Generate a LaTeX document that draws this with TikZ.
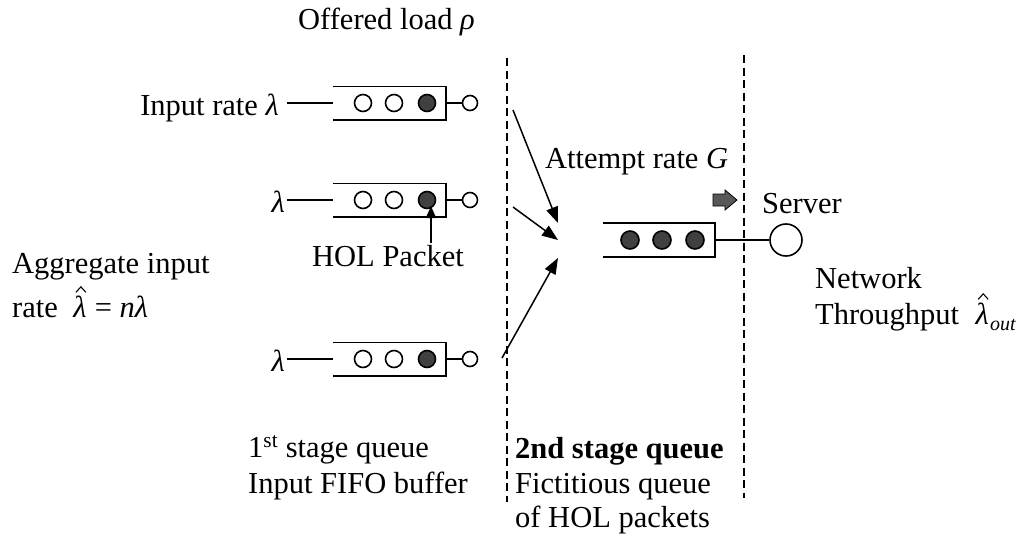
\documentclass[tikz,border=0pt]{standalone}
\usepackage{fontspec}
\setmainfont{Liberation Serif}
\usetikzlibrary{arrows.meta}
\tikzset{
  lbl/.style={inner sep=0pt, font=\fontsize{30.5}{36}\selectfont},
  sub/.style={inner sep=0pt, font=\fontsize{20}{24}\selectfont\itshape},
  hat/.style={line width=1.1pt, line join=miter},
  qline/.style={line width=1.6pt},
  qbox/.style={minimum width=113pt, minimum height=33pt, inner sep=0pt},
  pkt/.style={circle, draw, line width=1.6pt, minimum size=17pt, inner sep=0pt},
  hol/.style={pkt, fill=black!75},
  port/.style={circle, draw, line width=1.6pt, minimum size=15pt, inner sep=0pt},
  stage/.style={dashed, line width=1.5pt, dash pattern=on 8pt off 4.5pt},
  feed/.style={line width=1.5pt, -{Triangle[length=16pt,width=12pt]}},
}
\begin{document}
\begin{tikzpicture}[x=1pt,y=-1pt]
\useasboundingbox (0,0) rectangle (1021,538);

% ---- first stage: three input FIFO buffers ----
\foreach \i/\y in {1/103,2/200,3/359}{
  \node[qbox] (box\i) at (389.5,\y) {};
  \draw[qline] (box\i.north west) -- (box\i.north east) -- (box\i.south east) -- (box\i.south west);
  \node[pkt] (p\i a) at (363,\y) {};
  \node[pkt] (p\i b) at (394,\y) {};
  \node[hol] (p\i c) at (427,\y) {};
  \node[port] (out\i) at (470,\y) {};
  \draw[qline] (box\i.east) -- (out\i);
  \coordinate (in\i) at (287,\y);
  \draw[line width=1.3pt] (in\i) -- (box\i.west);
}

\node[lbl, anchor=base east] (lam1) at (279,115) {Input rate \textit{λ}};
\node[lbl, anchor=base east] (lam2) at (285,212) {\textit{λ}};
\node[lbl, anchor=base east] (lam3) at (285,371) {\textit{λ}};

% head-of-line marker
\node[lbl, anchor=base west] (holtxt) at (312,266) {HOL Packet};
\coordinate (holfoot) at (431,243);
\draw[line width=1.5pt, -{Triangle[length=12pt,width=10pt]}] (holfoot) -- (431,206);

% ---- stage boundaries ----
\coordinate (d1t) at (507,58);  \coordinate (d1b) at (507,502);
\coordinate (d2t) at (744,55);  \coordinate (d2b) at (744,498);
\draw[stage] (d1t) -- (d1b);
\draw[stage] (d2t) -- (d2b);

% ---- attempts of the HOL packets ----
\coordinate (s1) at (513,110); \coordinate (t1) at (558,223);
\coordinate (s2) at (513,207); \coordinate (t2) at (558,240);
\coordinate (s3) at (502,358); \coordinate (t3) at (558,258);
\draw[feed] (s1) -- (t1);
\draw[feed] (s2) -- (t2);
\draw[feed] (s3) -- (t3);

% ---- second stage: fictitious queue and server ----
\node[qbox, minimum width=112pt, minimum height=34pt] (box4) at (659,240) {};
\draw[qline] (box4.north west) -- (box4.north east) -- (box4.south east) -- (box4.south west);
\node[hol, minimum size=18pt] (f1) at (630,240) {};
\node[hol, minimum size=18pt] (f2) at (662,240) {};
\node[hol, minimum size=18pt] (f3) at (695,240) {};
\node[circle, draw, line width=1.6pt, minimum size=32pt, inner sep=0pt] (server) at (786,240) {};
\draw[qline] (box4.east) -- (server);

% service direction marker
\draw[line width=0.8pt, fill=black!65]
  (713,194) -- (725,194) -- (725,190) -- (737,200) -- (725,210) -- (725,206) -- (713,206) -- cycle;

% ---- labels ----
\node[lbl, anchor=base west] (offered) at (298,30) {Offered load \textit{ρ}};
\node[lbl, anchor=base west] (attempt) at (545,168) {Attempt rate \textit{G}};
\node[lbl, anchor=base west] (srv) at (762,213) {Server};
\node[lbl, anchor=base west] (net1) at (815,288) {Network};

% network throughput, lambda-hat with subscript
\node[lbl, anchor=base west] (net2) at (815,324) {Throughput};
\node[lbl, anchor=base west] (lamB) at ([xshift=16pt]net2.base east) {\itshape λ};
\node[sub, anchor=base west] (outB) at ([xshift=1pt,yshift=-6pt]lamB.base east) {out};
\draw[hat] ([xshift=-4pt,yshift=3pt]lamB.north) -- ([xshift=1pt,yshift=8.5pt]lamB.north) -- ([xshift=6pt,yshift=3pt]lamB.north);

% aggregate input rate
\node[lbl, anchor=base west] (agg1) at (12,273) {Aggregate input};
\node[lbl, anchor=base west] (agg2) at (12,317) {rate};
\node[lbl, anchor=base west] (lamA) at ([xshift=15pt]agg2.base east) {\itshape λ};
\node[lbl, anchor=base west] (agg3) at ([xshift=8pt]lamA.base east) {= \textit{nλ}};
\draw[hat] ([xshift=-4pt,yshift=3pt]lamA.north) -- ([xshift=1pt,yshift=8.5pt]lamA.north) -- ([xshift=6pt,yshift=3pt]lamA.north);

\node[lbl, anchor=base west] (st1a) at (248,457) {1\textsuperscript{st} stage queue};
\node[lbl, anchor=base west] (st1b) at (248,493) {Input FIFO buffer};
\node[lbl, anchor=base west] (st2a) at (515,458) {\bfseries 2nd stage queue};
\node[lbl, anchor=base west] (st2b) at (515,493) {Fictitious queue};
\node[lbl, anchor=base west] (st2c) at (515,527) {of HOL packets};
\end{tikzpicture}
\end{document}
